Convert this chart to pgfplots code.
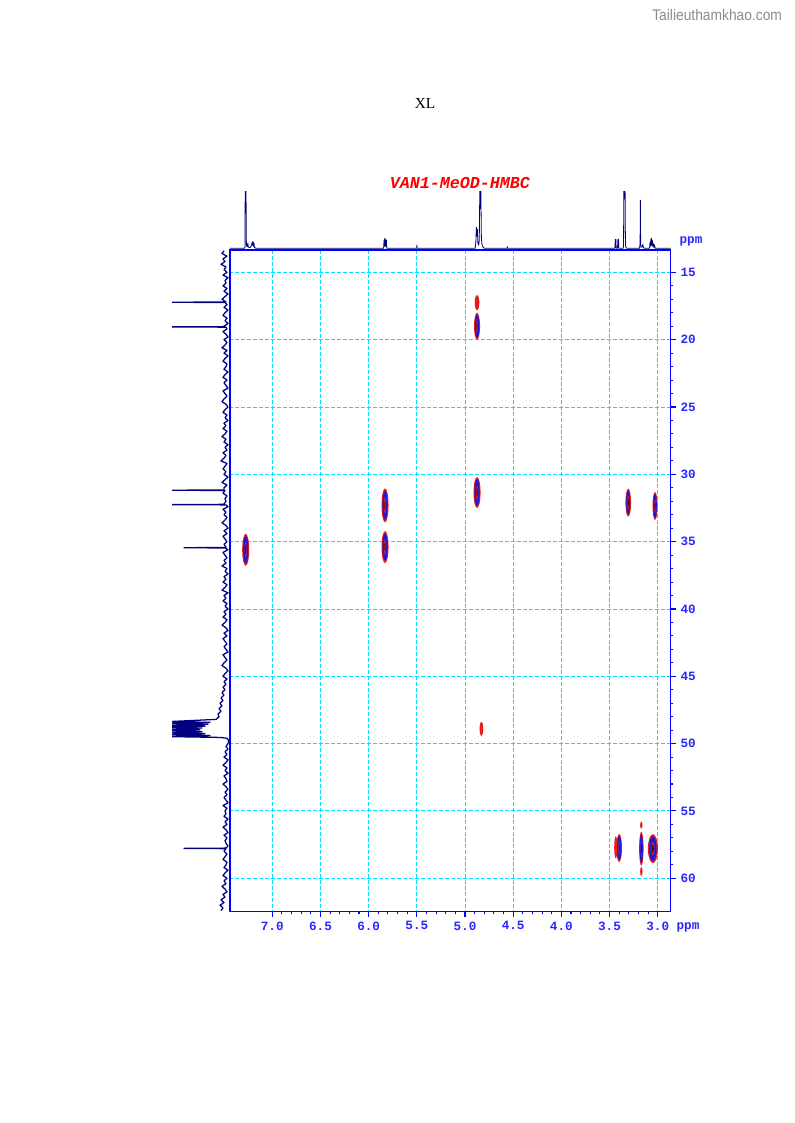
\documentclass[border=0pt]{standalone}
\usepackage{pgfplots}
\pgfplotsset{compat=1.18}
\usepackage{pgfplotstable}
\usepackage{fontspec}
\setmainfont{Liberation Serif}
\newfontfamily\monofont{Liberation Mono}
\newfontfamily\wmfont[FakeStretch=0.9]{Liberation Sans}
\definecolor{navy}{RGB}{0,0,128}
\definecolor{axblue}{RGB}{0,0,255}
\definecolor{lblblue}{RGB}{40,40,255}
\definecolor{gridcyan}{RGB}{0,225,255}
\definecolor{pkred}{RGB}{235,25,25}
\definecolor{pkblue}{RGB}{25,25,220}

% cross-peak marks: radii given in px (1px = 0.75pt)
\pgfdeclareplotmark{xpk}{%
  \pgfpathellipse{\pgfpointorigin}{\pgfpoint{0.75*\rx pt}{0pt}}{\pgfpoint{0pt}{0.75*\ry pt}}%
  \pgfsetfillcolor{pkred}\pgfusepath{fill}%
  \pgfpathellipse{\pgfpointorigin}{\pgfpoint{0.55*\rx pt}{0pt}}{\pgfpoint{0pt}{0.64*\ry pt}}%
  \pgfsetfillcolor{pkblue}\pgfusepath{fill}%
  \pgfpathellipse{\pgfpointorigin}{\pgfpoint{0.22*\rx pt}{0pt}}{\pgfpoint{0pt}{0.36*\ry pt}}%
  \pgfsetfillcolor{pkred}\pgfusepath{fill}%
  \pgfpathellipse{\pgfpointorigin}{\pgfpoint{0.1*\rx pt}{0pt}}{\pgfpoint{0pt}{0.22*\ry pt}}%
  \pgfsetfillcolor{black}\pgfusepath{fill}%
}
\pgfdeclareplotmark{xpkr}{%
  \pgfpathellipse{\pgfpointorigin}{\pgfpoint{0.75*\rx pt}{0pt}}{\pgfpoint{0pt}{0.75*\ry pt}}%
  \pgfsetfillcolor{pkred}\pgfusepath{fill}%
}

\pgfplotstableread{
x y rx ry
7.276 35.6 3.5 16
5.83 32.3 3.5 17
5.83 35.4 3.5 16
4.875 19.0 3 13.5
4.875 31.35 3.5 15.5
3.306 32.1 2.8 14
3.028 32.35 2.5 14
3.40 57.75 2.8 14
3.17 57.8 2.2 17
3.05 57.8 5 14.5
}\peaks

\pgfplotstableread{
x y rx ry
4.875 17.25 2.3 7.5
4.83 48.9 1.8 7
3.435 57.7 1.6 11
3.17 56.05 1.2 3.5
3.17 59.5 1.2 4.5
}\redpeaks

\begin{document}
\begin{tikzpicture}
\useasboundingbox[fill=white] (0,0) rectangle (595.5pt,842.25pt);

% page texts
\node[font=\fontsize{11.5}{12}\selectfont] at (318.75pt,765pt) {XL};
\node[font=\wmfont\fontsize{11.5}{12}\selectfont, text=black!45, anchor=east] at (590pt,831pt) {Tailieuthamkhao.com};

% top 1D proton spectrum
\begin{axis}[
  at={(172.5pt,655.5pt)}, anchor=south west,
  width=330.4pt, height=43pt, scale only axis,
  x dir=reverse, xmin=2.867, xmax=7.439,
  ymin=-0.7, ymax=56.6,
  hide axis,
]
\addplot[navy, line width=0.6pt, line join=round] coordinates {
(7.439,0) (7.29,0) (7.284,1) (7.281,62) (7.277,35) (7.273,62) (7.269,3) (7.262,1.5) (7.257,4) (7.253,5) (7.249,1) (7.23,0.8) (7.215,3) (7.21,6) (7.205,3) (7.20,7) (7.195,2) (7.19,5) (7.185,0.8) (7.17,0)
(5.845,0) (5.840,8) (5.836,2) (5.832,10) (5.828,2) (5.824,9) (5.820,2) (5.816,8) (5.812,0)
(5.502,0) (5.500,3) (5.498,0)
(4.895,0) (4.888,5) (4.882,21) (4.877,12) (4.872,19) (4.866,5) (4.858,3) (4.852,8) (4.846,62) (4.841,40) (4.836,62) (4.830,10) (4.824,4) (4.815,1.5) (4.80,0)
(4.562,0) (4.560,1.5) (4.558,0)
(3.445,0) (3.440,9) (3.437,1) (3.434,9) (3.431,0) (3.417,0) (3.413,9) (3.410,1) (3.407,9) (3.404,0)
(3.36,0) (3.355,2) (3.351,62) (3.347,50) (3.343,62) (3.339,62) (3.335,3) (3.33,1) (3.32,0)
(3.19,0) (3.186,2) (3.183,5) (3.180,48) (3.177,4) (3.172,1) (3.16,1.5) (3.155,4) (3.15,1) (3.14,0)
(3.085,0) (3.08,6) (3.076,2) (3.072,9) (3.068,3) (3.064,10) (3.06,3) (3.056,8) (3.052,2) (3.048,5) (3.044,1) (3.04,4) (3.036,1) (3.032,3) (3.028,0) (2.867,0)
};
\end{axis}

% left 1D carbon projection
\begin{axis}[
  at={(129pt,158.6pt)}, anchor=south west,
  width=43.5pt, height=496.1pt, scale only axis,
  x dir=reverse, y dir=reverse,
  xmin=0, xmax=58, ymin=13.344, ymax=62.47,
  hide axis,
]
\addplot[navy, line width=0.95pt, line join=round] coordinates {
(6,13.4)(8,13.6)(3,13.8)(7,14.0)(5,14.2)(9,14.4)(4,14.6)(6,14.8)(3,15.0)(7,15.2)
(2,15.4)(5,15.6)(4,15.8)(7,16.0)(3,16.2)(6,16.4)(2,16.6)(5,16.8)(8,17.0)(4,17.2)
(60,17.22)(5,17.24)
(3,17.4)(6,17.6)(2,17.8)(5,18.0)(7,18.2)(3,18.4)(5,18.6)(2,18.8)(6,19.0)
(5,19.03)(60,19.05)(4,19.07)
(3,19.2)(7,19.4)(4,19.6)(2,19.8)(6,20.0)(3,20.2)(5,20.4)(8,20.6)(3,20.8)(6,21.0)
(2,21.2)(5,21.4)(7,21.6)(3,21.8)(4,22.0)(6,22.2)(2,22.4)(5,22.6)(7,22.8)(3,23.0)
(6,23.2)(4,23.4)(2,23.6)(7,23.8)(5,24.0)(3,24.2)(6,24.4)(8,24.6)(4,24.8)(2,25.0)
(5,25.2)(7,25.4)(3,25.6)(5,25.8)(2,26.0)(6,26.2)(4,26.4)(7,26.6)(3,26.8)(5,27.0)
(8,27.2)(4,27.4)(6,27.6)(2,27.8)(5,28.0)(3,28.2)(7,28.4)(4,28.6)(6,28.8)(9,29.0)
(3,29.2)(5,29.4)(7,29.6)(4,29.8)(6,30.0)(2,30.2)(5,30.4)(8,30.6)(3,30.8)(6,31.0)
(6,31.16)(60,31.18)(5,31.2)
(7,31.4)(3,31.6)(5,31.8)(4,32.0)(6,32.2)
(6,32.23)(60,32.25)(4,32.27)
(2,32.4)(7,32.6)(4,32.8)(6,33.0)
(3,33.2)(5,33.4)(8,33.6)(4,33.8)(2,34.0)(6,34.2)(3,34.4)(7,34.6)(5,34.8)(3,35.0)
(6,35.2)(4,35.4)
(4,35.43)(46,35.45)(5,35.47)
(2,35.6)(7,35.8)(5,36.0)(3,36.2)(6,36.4)(4,36.6)(8,36.8)(3,37.0)
(5,37.2)(2,37.4)(6,37.6)(4,37.8)(7,38.0)(3,38.2)(5,38.4)(8,38.6)(2,38.8)(6,39.0)
(4,39.2)(7,39.4)(3,39.6)(5,39.8)(2,40.0)(6,40.2)(4,40.4)(7,40.6)(3,40.8)(5,41.0)
(8,41.2)(4,41.4)(2,41.6)(6,41.8)(3,42.0)(7,42.2)(5,42.4)(3,42.6)(6,42.8)(4,43.0)
(2,43.2)(7,43.4)(5,43.6)(3,43.8)(6,44.0)(8,44.2)(4,44.4)(2,44.6)(5,44.8)(7,45.0)
(3,45.2)(6,45.4)(4,45.6)(7,45.8)(5,46.0)(8,46.2)(6,46.4)(9,46.6)(7,46.8)(10,47.0)
(8,47.2)(11,47.4)(9,47.6)(12,47.8)(11,48.0)(14,48.2)
(60,48.36)(20,48.42)(60,48.5)(22,48.56)(60,48.64)(25,48.7)(60,48.78)(28,48.84)(60,48.92)(30,48.98)(60,49.06)(28,49.12)(60,49.2)(25,49.26)(60,49.34)(20,49.4)(60,49.48)(10,49.54)
(3,49.6)(1,49.8)(2,50.0)(4,50.2)(2,50.4)(5,50.6)(3,50.8)(6,51.0)(2,51.2)(4,51.4)
(7,51.6)(3,51.8)(5,52.0)(2,52.2)(6,52.4)(4,52.6)(3,52.8)(7,53.0)(4,53.2)(2,53.4)
(5,53.6)(3,53.8)(6,54.0)(4,54.2)(2,54.4)(7,54.6)(3,54.8)(5,55.0)(4,55.2)(6,55.4)
(2,55.6)(5,55.8)(3,56.0)(7,56.2)(4,56.4)(2,56.6)(6,56.8)(3,57.0)(5,57.2)(4,57.4)
(2,57.6)(4,57.76)(46,57.78)(4,57.8)
(6,58.0)(3,58.2)(5,58.4)(7,58.6)(3,58.8)(4,59.0)(6,59.2)
(2,59.4)(5,59.6)(7,59.8)(3,60.0)(6,60.2)(4,60.4)(8,60.6)(5,60.8)(3,61.0)(7,61.2)
(5,61.4)(9,61.6)(6,61.8)(10,62.0)(7,62.2)(9,62.4)
};
\end{axis}

% main 2D HMBC map
\begin{axis}[
  at={(172.5pt,158.6pt)}, anchor=south west,
  width=330.4pt, height=496.1pt, scale only axis,
  x dir=reverse, y dir=reverse,
  xmin=2.867, xmax=7.439, ymin=13.344, ymax=62.47,
  xtick={3,3.5,...,7}, ytick={15,20,...,60},
  minor x tick num=4, minor y tick num=4,
  tick align=outside,
  xtick pos=left, ytick pos=right,
  major tick length=4pt, minor tick length=2.2pt,
  axis line style={axblue, line width=1pt},
  tick style={axblue, line width=0.8pt},
  grid=major,
  major grid style={gridcyan, line width=0.7pt, dash pattern=on 3pt off 1.5pt},
  /pgf/number format/assume math mode=true,
  xticklabel style={/pgf/number format/.cd, fixed, fixed zerofill, precision=1},
  tick label style={font=\monofont\bfseries\fontsize{9.5}{10}\selectfont, text=lblblue},
]
\addplot[only marks, mark=xpk,
  visualization depends on={\thisrow{rx}\as\rx},
  visualization depends on={\thisrow{ry}\as\ry}] table[x=x, y=y] {\peaks};
\addplot[only marks, mark=xpkr,
  visualization depends on={\thisrow{rx}\as\rx},
  visualization depends on={\thisrow{ry}\as\ry}] table[x=x, y=y] {\redpeaks};
\end{axis}

% title and unit labels
\node[font=\monofont\bfseries\itshape\fontsize{12.5}{13}\selectfont, text=red] at (345pt,705pt) {VAN1-MeOD-HMBC};
\node[font=\monofont\bfseries\fontsize{9.5}{10}\selectfont, text=lblblue] at (516pt,147pt) {ppm};
\node[font=\monofont\bfseries\fontsize{9.5}{10}\selectfont, text=lblblue] at (518.25pt,661.5pt) {ppm};
\end{tikzpicture}
\end{document}
